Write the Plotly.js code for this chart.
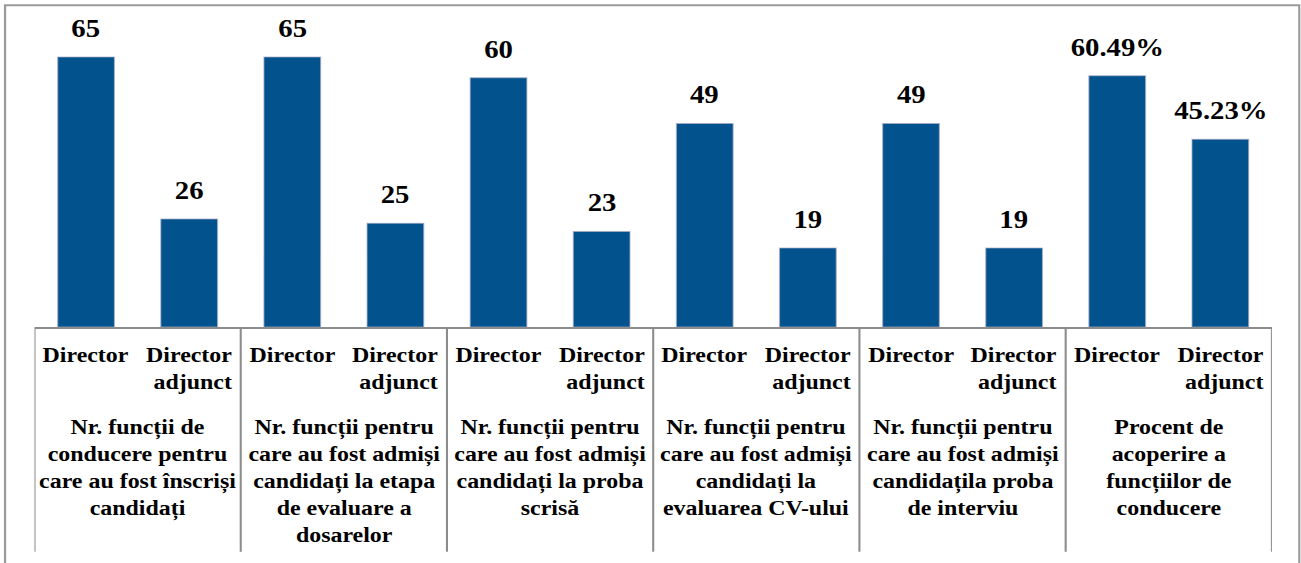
<!DOCTYPE html>
<html>
<head>
<meta charset="utf-8">
<script src="https://cdn.plot.ly/plotly-3.0.1.min.js"></script>
<style>
html,body{margin:0;padding:0;background:#fff;overflow:hidden;}
#chart{width:1131px;height:563px;transform:scaleX(1.15);transform-origin:0 0;}
#chart text{font-family:'Liberation Serif','Times New Roman',serif !important;}
</style>
</head>
<body>
<div id="chart"></div>
<script>
// Data
var groups = [
  "Nr. funcții de<br>conducere pentru<br>care au fost înscriși<br>candidați",
  "Nr. funcții pentru<br>care au fost admiși<br>candidați la etapa<br>de evaluare a<br>dosarelor",
  "Nr. funcții pentru<br>care au fost admiși<br>candidați la proba<br>scrisă",
  "Nr. funcții pentru<br>care au fost admiși<br>candidați la<br>evaluarea CV-ului",
  "Nr. funcții pentru<br>care au fost admiși<br>candidațila proba<br>de interviu",
  "Procent de<br>acoperire a<br>funcțiilor de<br>conducere"
];
var seriesNames = ["Director", "Director<br>adjunct"];
var values = [65, 26, 65, 25, 60, 23, 49, 19, 49, 19, 60.49, 45.23];
var valueLabels = ["65", "26", "65", "25", "60", "23", "49", "19", "49", "19", "60.49%", "45.23%"];

var xs = values.map(function (_, i) { return i; });
var FONT = "Liberation Serif";

function bold(s) { return s.split("<br>").map(function (p) { return "<b>" + p + "</b>"; }).join("<br>"); }

var trace = {
  type: "bar",
  x: xs,
  y: values,
  width: 0.55,
  marker: { color: "#02538d", line: { color: "rgba(170,170,200,0.7)", width: 1 } },
  hoverinfo: "none"
};

var annotations = [];
values.forEach(function (v, i) {
  annotations.push({
    x: i, y: v, xref: "x", yref: "y",
    text: bold(valueLabels[i]), showarrow: false,
    xanchor: "center", yanchor: "bottom", yshift: 13,
    font: { family: FONT, size: 25, color: "#000000" }
  });
  annotations.push({
    x: i, y: -0.045, xref: "x", yref: "paper",
    text: bold(seriesNames[i % 2]), showarrow: false, align: "right",
    xanchor: "center", yanchor: "top",
    font: { family: FONT, size: 20.8, color: "#000000" }
  });
});
groups.forEach(function (g, k) {
  annotations.push({
    x: 2 * k + 0.5, y: -0.268, xref: "x", yref: "paper",
    text: bold(g), showarrow: false, align: "center",
    xanchor: "center", yanchor: "top",
    font: { family: FONT, size: 20.8, color: "#000000" }
  });
});

var shapes = [];
for (var k = 0; k <= groups.length; k++) {
  shapes.push({
    type: "line", xref: "x", yref: "paper",
    x0: 2 * k - 0.5, x1: 2 * k - 0.5, y0: 0, y1: -0.7,
    line: { color: "#8c8c8c", width: 1.8 }
  });
}
shapes.push({
  type: "rect", xref: "paper", yref: "paper",
  x0: -0.0238, x1: 1.0222, y0: -0.9, y1: 1.0025,
  line: { color: "#9a9a9a", width: 2 }
});

var layout = {
  width: 1131, height: 563,
  margin: { l: 30, r: 25, t: 6, b: 236 },
  paper_bgcolor: "#fff", plot_bgcolor: "#fff",
  showlegend: false,
  font: { family: FONT, color: "#000000" },
  xaxis: {
    range: [-0.5, values.length - 0.5],
    showticklabels: false, ticks: "", showgrid: false, zeroline: false,
    showline: true, linecolor: "#8c8c8c", linewidth: 2
  },
  yaxis: {
    range: [0, 77.28], visible: false, showgrid: false, zeroline: false
  },
  annotations: annotations,
  shapes: shapes
};

Plotly.newPlot("chart", [trace], layout, { displayModeBar: false });
</script>
</body>
</html>
